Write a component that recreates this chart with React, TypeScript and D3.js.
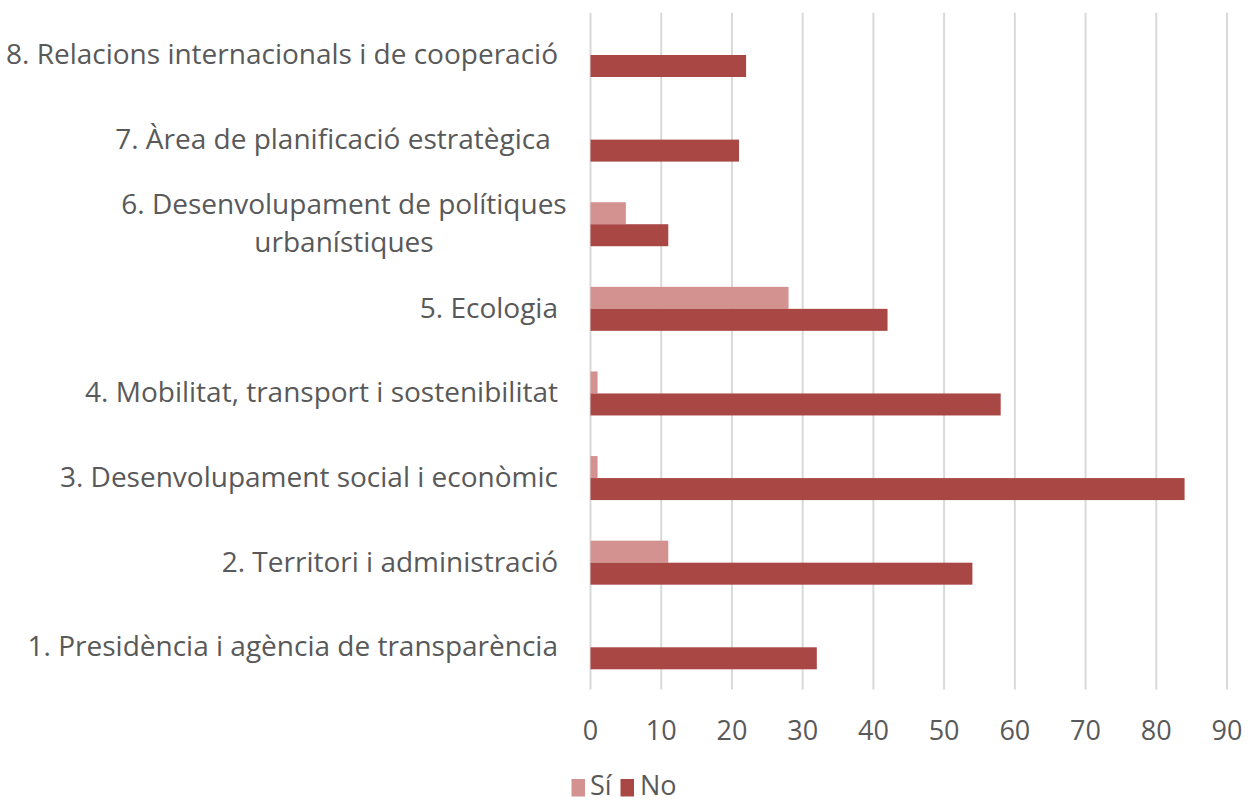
import React from "react";
import * as d3 from "d3";

const categories: string[][] = [
  ["1. Presidència i agència de transparència"],
  ["2. Territori i administració"],
  ["3. Desenvolupament social i econòmic"],
  ["4. Mobilitat, transport i sostenibilitat"],
  ["5. Ecologia"],
  ["6. Desenvolupament de polítiques", "urbanístiques"],
  ["7. Àrea de planificació estratègica "],
  ["8. Relacions internacionals i de cooperació"],
];
const siValues = [0, 11, 1, 1, 28, 5, 0, 0];
const noValues = [32, 54, 84, 58, 42, 11, 21, 22];
const xTicks = [0, 10, 20, 30, 40, 50, 60, 70, 80, 90];
const seriesNames = ["Sí", "No"];
const colors = ["#D39190", "#A94744"];

const W = 1248;
const H = 804;
const plot = { left: 590.5, right: 1227, top: 12.7, bottom: 689.6 };
const FONT = "'Open Sans', sans-serif";
const FS = 28;
const FS_TICK = 27;
const TEXT = "#595959";

export default function App() {
  const x = d3.scaleLinear().domain([0, 90]).range([plot.left, plot.right]);
  const idx = categories.map((_, i) => i);
  const y = d3
    .scaleBand<number>()
    .domain([...idx].reverse())
    .range([plot.top, plot.bottom])
    .paddingInner(0)
    .paddingOuter(0);
  const band = y.bandwidth();
  const barH = band * 0.26;
  const inner = d3.scaleBand<number>().domain([0, 1]).range([-barH, barH]);
  const series = [siValues, noValues];

  return (
    <svg
      width={W}
      height={H}
      style={{ position: "absolute", left: 0, top: 0, background: "#fff" }}
      fontFamily={FONT}
    >
      {xTicks.map((t) => (
        <line
          key={"g" + t}
          x1={x(t)}
          x2={x(t)}
          y1={plot.top}
          y2={plot.bottom}
          stroke="#D9D9D9"
          strokeWidth={2}
        />
      ))}
      {series.map((vals, s) =>
        vals.map((v, i) =>
          v > 0 ? (
            <rect
              key={`b${s}-${i}`}
              x={x(0)}
              y={(y(i) as number) + band / 2 + (inner(s) as number)}
              width={x(v) - x(0)}
              height={inner.bandwidth()}
              fill={colors[s]}
            />
          ) : null
        )
      )}
      {categories.map((lines, i) => {
        const cy = (y(i) as number) + band / 2;
        if (lines.length === 1) {
          return (
            <text
              key={"c" + i}
              x={558}
              y={cy + 9}
              textAnchor="end"
              fontSize={FS}
              fill={TEXT}
              style={{ whiteSpace: "pre" }}
            >
              {lines[0]}
            </text>
          );
        }
        const lh = 38;
        return (
          <text key={"c" + i} textAnchor="middle" fontSize={FS} fill={TEXT}>
            {lines.map((l, k) => (
              <tspan
                key={k}
                x={344}
                y={cy + 9 + (k - (lines.length - 1) / 2) * lh}
              >
                {l}
              </tspan>
            ))}
          </text>
        );
      })}
      {xTicks.map((t) => (
        <text
          key={"t" + t}
          x={x(t)}
          y={740}
          textAnchor="middle"
          fontSize={FS_TICK}
          fill={TEXT}
        >
          {t}
        </text>
      ))}
      <g>
        <rect x={571.5} y={779} width={13.5} height={17.5} fill={colors[0]} />
        <text x={590} y={795} fontSize={FS_TICK} fill={TEXT}>
          {seriesNames[0]}
        </text>
        <rect x={620.5} y={779} width={13.5} height={17.5} fill={colors[1]} />
        <text x={640} y={795} fontSize={FS_TICK} fill={TEXT}>
          {seriesNames[1]}
        </text>
      </g>
    </svg>
  );
}
